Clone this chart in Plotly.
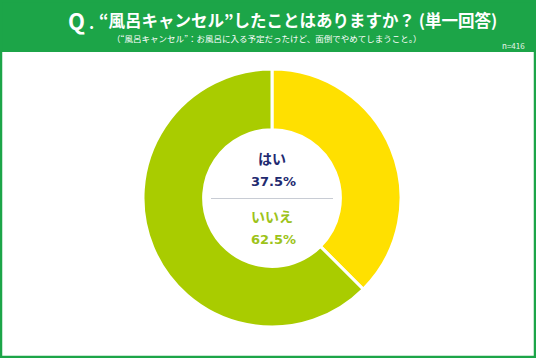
import plotly.graph_objects as go

labels = ["はい", "いいえ"]
values = [37.5, 62.5]
colors = ["#FFE000", "#A9CC00"]
title_text = "“風呂キャンセル”したことはありますか？ (単一回答)"
subtitle_text = "（“風呂キャンセル”：お風呂に入る予定だったけど、面倒でやめてしまうこと。）"
n_text = "n=416"

W, H = 536, 358
GREEN = "#1CA548"
FONT = "Noto Sans CJK JP"
NUMFONT = "DejaVu Sans"

def px(x): return x / W
def py(y): return 1 - y / H

fig = go.Figure(go.Pie(
    labels=labels, values=values, sort=False, direction="clockwise", rotation=0,
    hole=0.53, marker=dict(colors=colors, line=dict(color="white", width=3)),
    textinfo="none", hoverinfo="label+percent", showlegend=False,
    domain=dict(x=[px(272 - 129), px(272 + 129)], y=[py(327), py(69)]),
))

shapes = [
    dict(type="rect", xref="paper", yref="paper", x0=0, x1=1, y0=py(52), y1=1,
         fillcolor=GREEN, line=dict(width=0), layer="below"),
    dict(type="rect", xref="paper", yref="paper", x0=px(1), x1=px(535), y0=py(357), y1=py(1),
         fillcolor="rgba(0,0,0,0)", line=dict(color=GREEN, width=2.5)),
    dict(type="line", xref="paper", yref="paper", x0=px(211), x1=px(333), y0=py(198.5), y1=py(198.5),
         line=dict(color="#C8CCD4", width=1)),
]

anns = [
    dict(text="<b>Q</b>", x=px(76), y=py(20), font=dict(size=22, color="white", family=FONT)),
    dict(text="<b>.</b>", x=px(91), y=py(22), font=dict(size=16, color="white", family=FONT)),
    dict(text="<b>" + title_text + "</b>", x=px(97), y=py(20), xanchor="left",
         font=dict(size=16.5, color="white", family=FONT)),
    dict(text=subtitle_text, x=px(266), y=py(38), font=dict(size=8.5, color="white", family=FONT)),
    dict(text=n_text, x=px(513), y=py(45), font=dict(size=8, color="#E8F5EC", family=FONT)),
    dict(text="<b>" + labels[0] + "</b>", x=px(272), y=py(158), font=dict(size=14, color="#1F2A70", family=FONT)),
    dict(text="<b>%.1f%%</b>" % values[0], x=px(273), y=py(181), font=dict(size=13, color="#1F2A70", family=NUMFONT)),
    dict(text="<b>" + labels[1] + "</b>", x=px(272), y=py(216), font=dict(size=14, color="#9DC31A", family=FONT)),
    dict(text="<b>%.1f%%</b>" % values[1], x=px(273), y=py(240), font=dict(size=13, color="#9DC31A", family=NUMFONT)),
]
for a in anns:
    a.setdefault("xanchor", "center")
    a.update(xref="paper", yref="paper", yanchor="middle", showarrow=False)

fig.update_layout(
    width=W, height=H, margin=dict(l=0, r=0, t=0, b=0),
    paper_bgcolor="white", plot_bgcolor="white",
    shapes=shapes, annotations=anns, font=dict(family=FONT),
)
fig.write_html("out.html", config={"displayModeBar": False},
               post_script="document.body.style.margin='0';document.body.style.overflow='hidden';")
